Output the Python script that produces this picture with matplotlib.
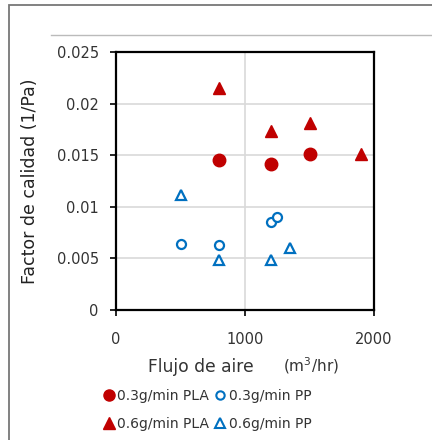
import matplotlib
matplotlib.use("Agg")
import matplotlib.pyplot as plt
from matplotlib.patches import Rectangle
from matplotlib.lines import Line2D

plt.rcParams['font.family'] = ['DejaVu Sans']

# Data
pla03_x = [800, 1200, 1500]
pla03_y = [0.0145, 0.0141, 0.0151]
pp03_x = [500, 800, 1200, 1250]
pp03_y = [0.0064, 0.0063, 0.0085, 0.0090]
pla06_x = [800, 1200, 1500, 1900]
pla06_y = [0.0215, 0.0173, 0.0181, 0.0151]
pp06_x = [500, 800, 1200, 1350]
pp06_y = [0.0111, 0.0048, 0.0048, 0.0060]

xticks = [0, 1000, 2000]
yticks = [0, 0.005, 0.01, 0.015, 0.02, 0.025]
yticklabels = ['0', '0.005', '0.01', '0.015', '0.02', '0.025']
labels = ['0.3g/min PLA', '0.3g/min PP', '0.6g/min PLA', '0.6g/min PP']

RED = '#C00000'
BLUE = '#0070C0'

fig = plt.figure(figsize=(4.32, 4.40), dpi=100)
ax = fig.add_axes([116/432, 1-310/440, (374-116)/432, (310-52)/440])

ax.plot(pla03_x, pla03_y, 'o', color=RED, ms=9, ls='none', zorder=3)
ax.plot(pp03_x, pp03_y, 'o', mfc='white', mec=BLUE, mew=1.6, ms=6.5, ls='none', zorder=3)
ax.plot(pla06_x, pla06_y, '^', color=RED, ms=8.5, ls='none', zorder=3)
ax.plot(pp06_x, pp06_y, '^', mfc='white', mec=BLUE, mew=1.6, ms=7.5, ls='none', zorder=3)

ax.set_xlim(0, 2000)
ax.set_ylim(0, 0.025)
ax.set_xticks(xticks)
ax.set_xticklabels([str(t) for t in xticks])
ax.set_yticks(yticks)
ax.set_yticklabels(yticklabels)
ax.grid(True, color='#d9d9d9', lw=1.2, zorder=0)
ax.set_axisbelow(True)
for s in ax.spines.values():
    s.set_linewidth(1.6)
    s.set_color('black')
ax.tick_params(direction='out', length=4.5, width=1.2, labelsize=10.5, colors='black')
ax.tick_params(axis='y', pad=8)
ax.tick_params(axis='x', pad=11)
for lab in ax.get_xticklabels() + ax.get_yticklabels():
    lab.set_color('#333333')

fig.text(30/432, 1-181/440, 'Factor de calidad (1/Pa)', rotation=90, ha='center', va='center', fontsize=12.5, color='#222222')
fig.text(201/432, 1-367/440, 'Flujo de aire', ha='center', va='center', fontsize=12.3, color='#333333')
fig.text(311/432, 1-366/440, '(m$^3$/hr)', ha='center', va='center', fontsize=11, color='#333333')

# legend
handles = [
    Line2D([], [], marker='o', color=RED, ls='none', ms=8),
    Line2D([], [], marker='^', color=RED, ls='none', ms=8),
    Line2D([], [], marker='o', mfc='white', mec=BLUE, mew=1.5, ls='none', ms=6),
    Line2D([], [], marker='^', mfc='white', mec=BLUE, mew=1.5, ls='none', ms=7),
]
leg_labels = [labels[0], labels[2], labels[1], labels[3]]
fig.legend(handles, leg_labels, ncol=2, loc='center left', bbox_to_anchor=(95/432, 1-410/440),
           frameon=False, fontsize=10, handletextpad=0.0, columnspacing=0.2,
           handlelength=1.2, labelspacing=1.0, borderaxespad=0, labelcolor='#333333')

# frame decorations
fig.patches.append(Rectangle((9/432, -0.1), 2, 1-5/440+0.1, transform=fig.transFigure,
                             fill=False, ec='#777777', lw=1.3))
fig.lines.append(Line2D([51/432, 1], [1-35/440, 1-35/440], transform=fig.transFigure, color='#bbbbbb', lw=1))

fig.savefig('out.png', dpi=100)
